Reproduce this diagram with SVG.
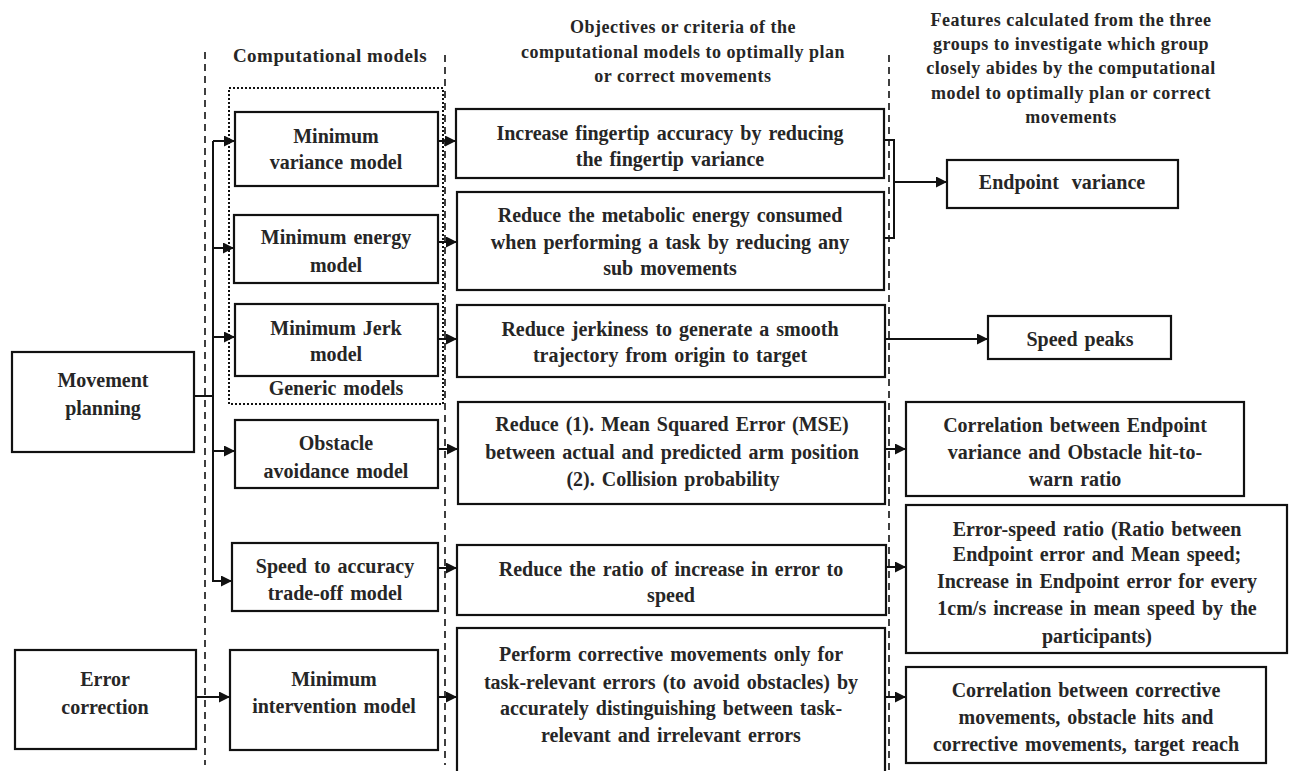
<svg xmlns="http://www.w3.org/2000/svg" width="1289" height="771" viewBox="0 0 1289 771">
<style>
.box{fill:#fff;stroke:#111;stroke-width:2.2}
.t{font-family:"Liberation Serif","Times New Roman",serif;font-weight:bold;font-size:20px;word-spacing:2px;fill:#262626;text-anchor:middle}
.h{font-family:"Liberation Serif","Times New Roman",serif;font-weight:bold;font-size:18px;letter-spacing:0.5px;fill:#262626;text-anchor:middle}
.c{fill:none;stroke:#111;stroke-width:2}
.dash{fill:none;stroke:#111;stroke-width:1.6;stroke-dasharray:7,5}
.dot{fill:none;stroke:#111;stroke-width:2;stroke-dasharray:2,2}
</style>
<defs>
<marker id="ah" markerUnits="userSpaceOnUse" viewBox="0 0 10 10" refX="10" refY="5" markerWidth="11" markerHeight="11" orient="auto">
<path d="M0,0 L10,5 L0,10 z" fill="#111"/>
</marker>
</defs>
<rect width="1289" height="771" fill="#fff"/>

<g id="guides">
<line class="dash" x1="205" y1="52" x2="205" y2="765"/>
<line class="dash" x1="445" y1="55" x2="445" y2="765"/>
<line class="dash" x1="889" y1="55" x2="889" y2="771"/>
<rect class="dot" x="229" y="88" width="214" height="316"/>
</g>

<g id="headers">
<text class="h" x="330" y="62" style="font-size:19px">Computational models</text>
<text class="h" x="683" y="33">Objectives or criteria of the</text>
<text class="h" x="683" y="58">computational models to optimally plan</text>
<text class="h" x="683" y="82">or correct movements</text>
<text class="h" x="1071" y="26">Features calculated from the three</text>
<text class="h" x="1071" y="50">groups to investigate which group</text>
<text class="h" x="1071" y="74">closely abides by the computational</text>
<text class="h" x="1071" y="99">model to optimally plan or correct</text>
<text class="h" x="1071" y="123">movements</text>
<text class="t" x="336" y="395">Generic models</text>
</g>

<g id="connectors">
<line class="c" x1="213" y1="141" x2="213" y2="582"/>
<line class="c" x1="194" y1="396" x2="213" y2="396"/>
<line class="c" x1="213" y1="141" x2="235" y2="141" marker-end="url(#ah)"/>
<line class="c" x1="213" y1="248" x2="234" y2="248" marker-end="url(#ah)"/>
<line class="c" x1="213" y1="337" x2="235" y2="337" marker-end="url(#ah)"/>
<line class="c" x1="213" y1="451" x2="235" y2="451" marker-end="url(#ah)"/>
<line class="c" x1="213" y1="581" x2="232" y2="581" marker-end="url(#ah)"/>
<line class="c" x1="196" y1="697" x2="230" y2="697" marker-end="url(#ah)"/>
<line class="c" x1="438" y1="141" x2="456" y2="141" marker-end="url(#ah)"/>
<line class="c" x1="438" y1="242" x2="457" y2="242" marker-end="url(#ah)"/>
<line class="c" x1="438" y1="339" x2="457" y2="339" marker-end="url(#ah)"/>
<line class="c" x1="438" y1="449" x2="458" y2="449" marker-end="url(#ah)"/>
<line class="c" x1="438" y1="568" x2="457" y2="568" marker-end="url(#ah)"/>
<line class="c" x1="438" y1="697" x2="457" y2="697" marker-end="url(#ah)"/>
<polyline class="c" points="885,140 894,140 894,238 885,238"/>
<line class="c" x1="894" y1="182" x2="947" y2="182" marker-end="url(#ah)"/>
<line class="c" x1="885" y1="339" x2="988" y2="339" marker-end="url(#ah)"/>
<line class="c" x1="885" y1="449" x2="906" y2="449" marker-end="url(#ah)"/>
<line class="c" x1="885" y1="567" x2="906" y2="567" marker-end="url(#ah)"/>
<line class="c" x1="885" y1="697" x2="906" y2="697" marker-end="url(#ah)"/>
</g>

<g id="movement-planning">
<rect class="box" x="12" y="352" width="182" height="100"/>
<text class="t" x="103" y="387">Movement</text>
<text class="t" x="103" y="415">planning</text>
</g>
<g id="error-correction">
<rect class="box" x="15" y="650" width="181" height="99"/>
<text class="t" x="105" y="686">Error</text>
<text class="t" x="105" y="714">correction</text>
</g>

<g id="min-variance">
<rect class="box" x="235" y="112" width="203" height="74"/>
<text class="t" x="336" y="143">Minimum</text>
<text class="t" x="336" y="169">variance model</text>
</g>
<g id="min-energy">
<rect class="box" x="234" y="215" width="204" height="68"/>
<text class="t" x="336" y="244">Minimum energy</text>
<text class="t" x="336" y="272">model</text>
</g>
<g id="min-jerk">
<rect class="box" x="235" y="304" width="203" height="72"/>
<text class="t" x="336" y="335">Minimum Jerk</text>
<text class="t" x="336" y="361">model</text>
</g>
<g id="obstacle">
<rect class="box" x="235" y="420" width="203" height="68"/>
<text class="t" x="336" y="450">Obstacle</text>
<text class="t" x="336" y="478">avoidance model</text>
</g>
<g id="speed-accuracy">
<rect class="box" x="232" y="543" width="206" height="68"/>
<text class="t" x="335" y="573">Speed to accuracy</text>
<text class="t" x="335" y="600">trade-off model</text>
</g>
<g id="min-intervention">
<rect class="box" x="230" y="650" width="208" height="100"/>
<text class="t" x="334" y="686">Minimum</text>
<text class="t" x="334" y="713">intervention model</text>
</g>

<g id="obj-variance">
<rect class="box" x="456" y="109" width="428" height="69"/>
<text class="t" x="670" y="140">Increase fingertip accuracy by reducing</text>
<text class="t" x="670" y="166">the fingertip variance</text>
</g>
<g id="obj-energy">
<rect class="box" x="457" y="192" width="427" height="98"/>
<text class="t" x="670" y="222">Reduce the metabolic energy consumed</text>
<text class="t" x="670" y="249">when performing a task by reducing any</text>
<text class="t" x="670" y="275">sub movements</text>
</g>
<g id="obj-jerk">
<rect class="box" x="457" y="305" width="428" height="72"/>
<text class="t" x="670" y="336">Reduce jerkiness to generate a smooth</text>
<text class="t" x="670" y="362">trajectory from origin to target</text>
</g>
<g id="obj-obstacle">
<rect class="box" x="458" y="402" width="427" height="102"/>
<text class="t" x="672" y="431">Reduce (1). Mean Squared Error (MSE)</text>
<text class="t" x="672" y="459">between actual and predicted arm position</text>
<text class="t" x="673" y="486">(2). Collision probability</text>
</g>
<g id="obj-speed">
<rect class="box" x="457" y="545" width="429" height="70"/>
<text class="t" x="671" y="576">Reduce the ratio of increase in error to</text>
<text class="t" x="671" y="602">speed</text>
</g>
<g id="obj-intervention">
<rect class="box" x="457" y="628" width="428" height="152"/>
<text class="t" x="671" y="661">Perform corrective movements only for</text>
<text class="t" x="671" y="689">task-relevant errors (to avoid obstacles) by</text>
<text class="t" x="671" y="715">accurately distinguishing between task-</text>
<text class="t" x="671" y="742">relevant and irrelevant errors</text>
</g>

<g id="feat-endpoint">
<rect class="box" x="947" y="160" width="231" height="48"/>
<text class="t" x="1062" y="189" style="word-spacing:8px">Endpoint variance</text>
</g>
<g id="feat-speed-peaks">
<rect class="box" x="988" y="316" width="183" height="43"/>
<text class="t" x="1080" y="346">Speed peaks</text>
</g>
<g id="feat-corr-obstacle">
<rect class="box" x="906" y="402" width="338" height="94"/>
<text class="t" x="1075" y="432">Correlation between Endpoint</text>
<text class="t" x="1075" y="459">variance and Obstacle hit-to-</text>
<text class="t" x="1075" y="486">warn ratio</text>
</g>
<g id="feat-error-speed">
<rect class="box" x="906" y="505" width="381" height="148"/>
<text class="t" x="1097" y="536">Error-speed ratio (Ratio between</text>
<text class="t" x="1097" y="561">Endpoint error and Mean speed;</text>
<text class="t" x="1097" y="588">Increase in Endpoint error for every</text>
<text class="t" x="1097" y="615">1cm/s increase in mean speed by the</text>
<text class="t" x="1097" y="643">participants)</text>
</g>
<g id="feat-corr-corrective">
<rect class="box" x="906" y="667" width="360" height="96"/>
<text class="t" x="1086" y="697">Correlation between corrective</text>
<text class="t" x="1086" y="724">movements, obstacle hits and</text>
<text class="t" x="1086" y="751">corrective movements, target reach</text>
</g>
</svg>
